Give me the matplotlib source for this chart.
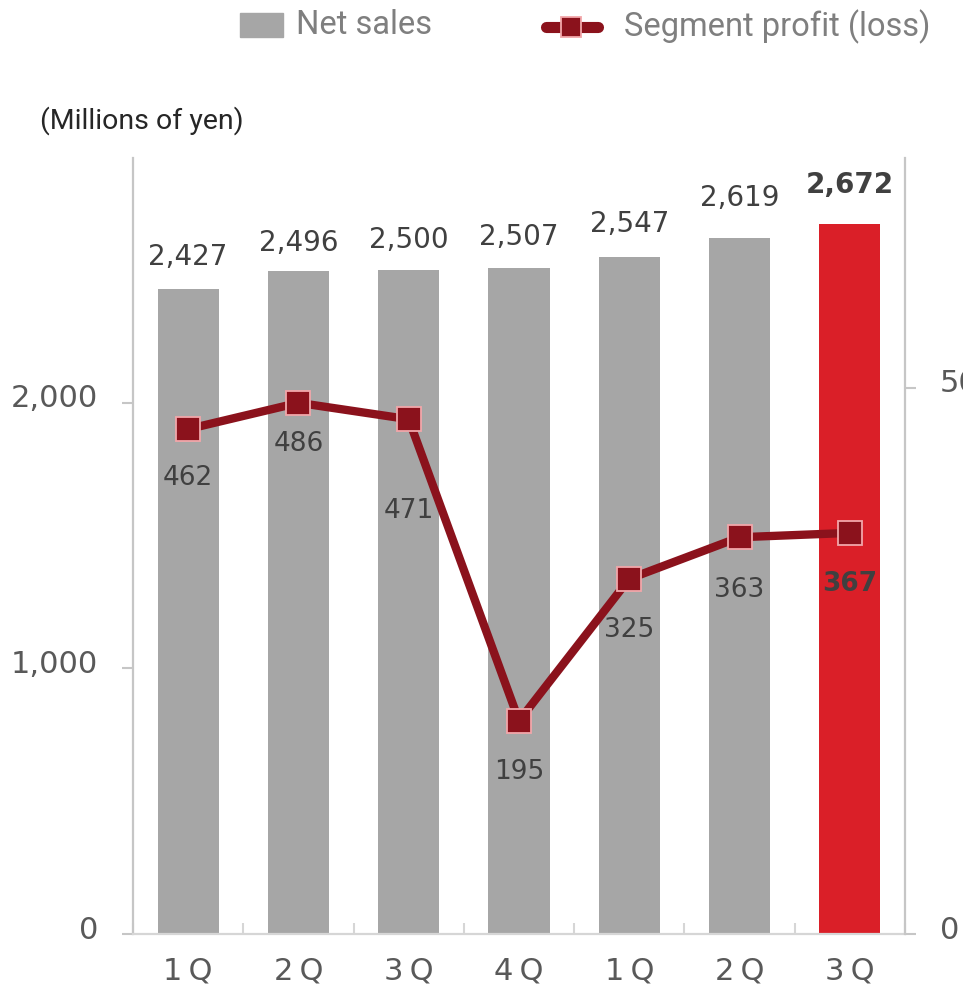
import matplotlib

matplotlib.use("Agg")
import matplotlib.pyplot as plt
from matplotlib.lines import Line2D
from matplotlib.patches import Rectangle
from matplotlib.transforms import ScaledTranslation

quarters = ["1\u2009Q", "2\u2009Q", "3\u2009Q", "4\u2009Q", "1\u2009Q", "2\u2009Q", "3\u2009Q"]
net_sales = [2427, 2496, 2500, 2507, 2547, 2619, 2672]
segment_profit = [462, 486, 471, 195, 325, 363, 367]
sales_ticks = [0, 1000, 2000]
profit_ticks = [0, 500]

# label nudges (points) - the source places them by hand
sales_label_gap = [13, 10, 11, 12, 14, 19, 18]
profit_label_gap = [35, 30, 66, 37, 37, 38, 37]

GRAY = "#A6A6A6"
RED = "#DA1F28"
LINE = "#8B121C"
EDGE = "#F2A7AA"
AXIS = "#C6C6C6"
TICK_TEXT = "#595959"
LABEL_TEXT = "#404040"
NARROW = ["Roboto", "DejaVu Sans"]

plt.rcParams["font.family"] = ["DejaVu Sans"]

fig = plt.figure(figsize=(9.63, 9.92), dpi=100)
ax = fig.add_axes([0.1381, 0.0585, 0.8017, 0.7822])
ax2 = ax.twinx()

x = list(range(len(quarters)))
colors = [GRAY] * (len(x) - 1) + [RED]
ax.bar(x, net_sales, width=0.555, color=colors, zorder=2)
ax.set_xlim(-0.5, len(x) - 0.5)
ax.set_ylim(0, 2920)
ax2.set_ylim(0, 710)

ax2.plot(
    x,
    segment_profit,
    color=LINE,
    lw=6,
    marker="s",
    markersize=17,
    markerfacecolor=LINE,
    markeredgecolor=EDGE,
    markeredgewidth=1.3,
    zorder=3,
)

last = len(x) - 1
for i, (value, gap) in enumerate(zip(net_sales, sales_label_gap)):
    ax.annotate(
        f"{value:,}",
        (i, value),
        xytext=(0, gap),
        textcoords="offset points",
        ha="center",
        va="bottom",
        fontsize=20,
        color=LABEL_TEXT,
        fontweight="bold" if i == last else "normal",
    )
for i, (value, gap) in enumerate(zip(segment_profit, profit_label_gap)):
    ax2.annotate(
        f"{value:,}",
        (i, value),
        xytext=(0, -gap),
        textcoords="offset points",
        ha="center",
        va="center",
        fontsize=19,
        color=LABEL_TEXT,
        fontweight="bold" if i == last else "normal",
        zorder=4,
    )

for spine in ["top", "right"]:
    ax.spines[spine].set_visible(False)
for spine in ["top", "left", "bottom"]:
    ax2.spines[spine].set_visible(False)
ax.spines["left"].set_color(AXIS)
ax.spines["left"].set_linewidth(1.6)
ax.spines["bottom"].set_color("#D6D6D6")
ax.spines["bottom"].set_linewidth(1.6)
ax2.spines["right"].set_color(AXIS)
ax2.spines["right"].set_linewidth(1.6)

ax.set_xticks(x, quarters)
ax.set_xticks([i - 0.5 for i in range(len(x) + 1)], minor=True)
ax.tick_params(axis="x", which="major", length=0, pad=16, labelsize=22, labelcolor=TICK_TEXT)
ax.tick_params(axis="x", which="minor", direction="in", length=8, width=1.5, color="#D6D6D6")

ax.set_yticks(sales_ticks, [f"{v:,}" for v in sales_ticks])
ax.tick_params(axis="y", length=8, width=1.5, color=AXIS, pad=17, labelsize=22, labelcolor=TICK_TEXT)
ax2.set_yticks(profit_ticks, [f"{v:,}" for v in profit_ticks])
ax2.tick_params(axis="y", length=8, width=1.5, color=AXIS, pad=17, labelsize=22, labelcolor=TICK_TEXT)

lift = ScaledTranslation(0, 5 / 72, fig.dpi_scale_trans)
for label in ax.get_yticklabels() + ax2.get_yticklabels():
    label.set_transform(label.get_transform() + lift)

fig.text(40 / 963, 1 - 121 / 992, "(Millions of yen)", family=NARROW, fontsize=20.5,
         color="#262626", va="center", ha="left")

# legend drawn by hand at the top
fig.add_artist(Rectangle((240 / 963, 1 - 37 / 992), 43 / 963, 24 / 992,
                         transform=fig.transFigure, color=GRAY))
fig.text(296 / 963, 1 - 25 / 992, "Net sales", family=NARROW, fontsize=23.5,
         color="#7F7F7F", va="center", ha="left")
fig.add_artist(Line2D([546 / 963, 598 / 963], [1 - 27 / 992] * 2, transform=fig.transFigure,
                      color=LINE, lw=8, solid_capstyle="round"))
fig.add_artist(Line2D([571 / 963], [1 - 27 / 992], transform=fig.transFigure, marker="s",
                      markersize=15, markerfacecolor=LINE, markeredgecolor=EDGE,
                      markeredgewidth=1.3, lw=0))
fig.text(624 / 963, 1 - 27 / 992, "Segment profit (loss)", family=NARROW, fontsize=23.5,
         color="#7F7F7F", va="center", ha="left")

fig.savefig("out.png", dpi=100)
plt.close(fig)
